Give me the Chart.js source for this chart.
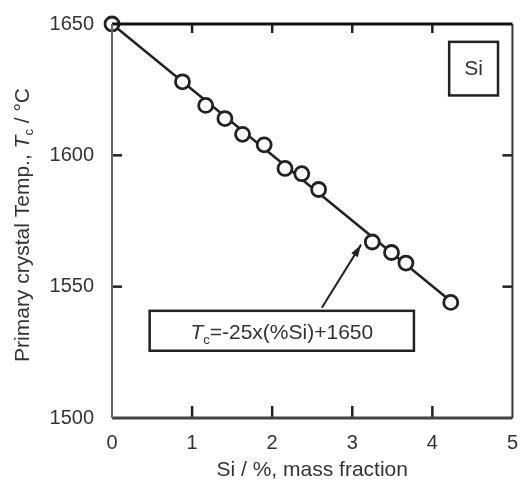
<!DOCTYPE html>
<html>
<head>
<meta charset="utf-8">
<script src="https://cdn.jsdelivr.net/npm/chart.js@4"></script>
<style>
  html, body { margin: 0; padding: 0; background: #fff; }
  #wrap { width: 523px; height: 485px; }
</style>
</head>
<body>
<div id="wrap"><canvas id="myChart" width="523" height="485"></canvas></div>
<script>
// measured points, Si content (%) vs primary crystal temperature (°C)
const siContent   = [0, 0.88, 1.17, 1.41, 1.63, 1.90, 2.16, 2.37, 2.58, 3.25, 3.49, 3.67, 4.23];
const primaryTemp = [1650, 1628, 1619, 1614, 1608, 1604, 1595, 1593, 1587, 1567, 1563, 1559, 1544];

// fitted line Tc = -25x(%Si)+1650
const fitX = [0, 4.25];
const fitY = [1650, 1544];

// arrow pointing from the label to the line
const arrowX = [2.62, 3.11];
const arrowY = [1542, 1566];

const xTicks = [0, 1, 2, 3, 4, 5];
const yTicks = [1500, 1550, 1600, 1650];

const ink = '#222';
const FONT = '"Liberation Sans", Arial, sans-serif';

function pairs(xs, ys) {
    return xs.map((x, i) => ({x: x, y: ys[i]}));
}

// frame and inward ticks
const frame = {
    id: 'frame',
    afterDraw(chart) {
        const c = chart.ctx;
        const a = chart.chartArea;
        const sx = chart.scales.x, sy = chart.scales.y;
        c.save();
        c.strokeStyle = ink;
        c.lineWidth = 2.5;
        for (let i = 1; i < xTicks.length - 1; i++) {
            const tx = sx.getPixelForValue(xTicks[i]);
            c.beginPath();
            c.moveTo(tx, a.bottom);
            c.lineTo(tx, a.bottom - 12);
            c.stroke();
            c.beginPath();
            c.moveTo(tx, a.top);
            c.lineTo(tx, a.top + 9);
            c.stroke();
        }
        for (let i = 1; i < yTicks.length - 1; i++) {
            const ty = sy.getPixelForValue(yTicks[i]);
            c.beginPath();
            c.moveTo(a.left, ty);
            c.lineTo(a.left + 10, ty);
            c.stroke();
            c.beginPath();
            c.moveTo(a.right, ty);
            c.lineTo(a.right - 10, ty);
            c.stroke();
        }

        c.lineWidth = 3;
        c.strokeStyle = '#111';
        c.beginPath(); c.moveTo(a.left, a.top); c.lineTo(a.right, a.top); c.stroke();
        c.strokeStyle = '#444';
        c.beginPath(); c.moveTo(a.left, a.bottom); c.lineTo(a.right, a.bottom); c.stroke();
        c.lineWidth = 2;
        c.strokeStyle = '#666';
        c.beginPath(); c.moveTo(a.left, a.top); c.lineTo(a.left, a.bottom); c.stroke();
        c.strokeStyle = '#333';
        c.beginPath(); c.moveTo(a.right, a.top); c.lineTo(a.right, a.bottom); c.stroke();
        c.restore();
    }
};

// boxes, arrow head and y title
const decorations = {
    id: 'decorations',
    beforeDatasetsDraw(chart) {
        const {ctx, chartArea: a, scales: {x, y}} = chart;
        ctx.save();
        ctx.strokeStyle = ink;

        // equation box
        const bx0 = x.getPixelForValue(0.47), bx1 = x.getPixelForValue(3.77);
        const by0 = y.getPixelForValue(1540.8), by1 = y.getPixelForValue(1525.6);
        ctx.lineWidth = 2.5;
        ctx.strokeRect(bx0, by0, bx1 - bx0, by1 - by0);
        ctx.fillStyle = '#333';
        ctx.textBaseline = 'alphabetic';
        ctx.textAlign = 'left';
        const base = (by0 + by1) / 2 + 8;
        const eq = [
            ['T', 'italic 21px ' + FONT, 0],
            ['c', '13px ' + FONT, 5],
            ['=-25x(%Si)+1650', '21px ' + FONT, 0]
        ];
        let eqW = 0;
        eq.forEach(p => { ctx.font = p[1]; eqW += ctx.measureText(p[0]).width; });
        let ex = (bx0 + bx1) / 2 - eqW / 2;
        eq.forEach(p => {
            ctx.font = p[1];
            ctx.fillText(p[0], ex, base + p[2]);
            ex += ctx.measureText(p[0]).width;
        });

        // element box
        const sx0 = x.getPixelForValue(4.21), sx1 = x.getPixelForValue(4.82);
        const sy0 = y.getPixelForValue(1643.2), sy1 = y.getPixelForValue(1622.8);
        ctx.strokeRect(sx0, sy0, sx1 - sx0, sy1 - sy0);
        ctx.textAlign = 'center';
        ctx.textBaseline = 'middle';
        ctx.font = '21px ' + FONT;
        ctx.fillText('Si', (sx0 + sx1) / 2, (sy0 + sy1) / 2 + 1);

        // arrow head
        const ax0 = x.getPixelForValue(arrowX[0]), ay0 = y.getPixelForValue(arrowY[0]);
        const ax1 = x.getPixelForValue(arrowX[1]), ay1 = y.getPixelForValue(arrowY[1]);
        const ang = Math.atan2(ay1 - ay0, ax1 - ax0);
        ctx.fillStyle = ink;
        ctx.beginPath();
        ctx.moveTo(ax1, ay1);
        ctx.lineTo(ax1 - 13 * Math.cos(ang - 0.3), ay1 - 13 * Math.sin(ang - 0.3));
        ctx.lineTo(ax1 - 13 * Math.cos(ang + 0.3), ay1 - 13 * Math.sin(ang + 0.3));
        ctx.closePath();
        ctx.fill();

        // y axis title with subscript
        ctx.translate(23, (a.top + a.bottom) / 2 + 4);
        ctx.rotate(-Math.PI / 2);
        ctx.fillStyle = '#333';
        ctx.textBaseline = 'middle';
        ctx.textAlign = 'left';
        const parts = [
            ['Primary crystal Temp., ', '21px ' + FONT, 0],
            ['T', 'italic 21px ' + FONT, 0],
            ['c', '13px ' + FONT, 6],
            [' / °C', '21px ' + FONT, 0]
        ];
        let total = 0;
        parts.forEach(p => { ctx.font = p[1]; total += ctx.measureText(p[0]).width; });
        let tpos = -total / 2;
        parts.forEach(p => {
            ctx.font = p[1];
            ctx.fillText(p[0], tpos, p[2]);
            tpos += ctx.measureText(p[0]).width;
        });
        ctx.restore();
    }
};

const ctx = document.getElementById('myChart').getContext('2d');
const chart = new Chart(ctx, {
    type: 'scatter',
    data: {
        datasets: [{
            label: 'Tc',
            data: pairs(siContent, primaryTemp),
            showLine: false,
            pointRadius: 7,
            pointBorderWidth: 2.8,
            pointBorderColor: ink,
            pointBackgroundColor: '#fff',
            order: 0
        }, {
            label: 'fit',
            data: pairs(fitX, fitY),
            showLine: true,
            borderColor: ink,
            borderWidth: 2.5,
            pointRadius: 0,
            order: 1
        }, {
            label: 'arrow',
            data: pairs(arrowX, arrowY),
            showLine: true,
            borderColor: ink,
            borderWidth: 2,
            pointRadius: 0,
            order: 2
        }]
    },
    options: {
        responsive: false,
        animation: false,
        clip: false,
        layout: {padding: {top: 24, right: 6, left: 0, bottom: 0}},
        plugins: {legend: {display: false}, tooltip: {enabled: false}},
        scales: {
            x: {
                type: 'linear',
                min: 0,
                max: 5,
                afterBuildTicks: s => { s.ticks = xTicks.map(v => ({value: v})); },
                afterFit: s => { s.height = 67; },
                grid: {display: false},
                border: {display: false},
                ticks: {color: '#333', font: {family: FONT, size: 20}, padding: 5, maxRotation: 0,
                        callback: v => String(v)},
                title: {display: true, text: 'Si / %, mass fraction', color: '#333',
                        font: {family: FONT, size: 21}, padding: {top: 0, bottom: 2}}
            },
            y: {
                type: 'linear',
                min: 1500,
                max: 1650,
                afterBuildTicks: s => { s.ticks = yTicks.map(v => ({value: v})); },
                afterFit: s => { s.width = 112; },
                grid: {display: false},
                border: {display: false},
                ticks: {color: '#333', font: {family: FONT, size: 20}, padding: 10,
                        callback: v => String(v)}
            }
        }
    },
    plugins: [decorations, frame]
});
</script>
</body>
</html>
